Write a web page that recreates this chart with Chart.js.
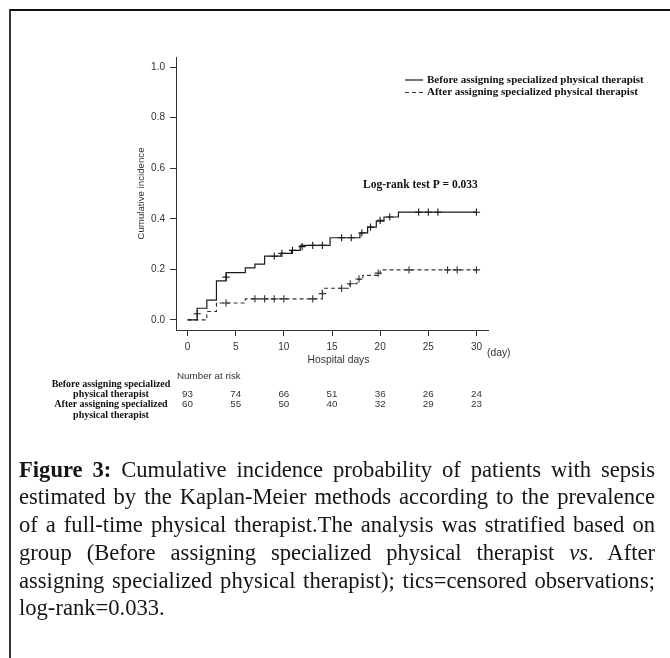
<!DOCTYPE html>
<html>
<head>
<meta charset="utf-8">
<script src="https://cdn.jsdelivr.net/npm/chart.js@4.4.1/dist/chart.umd.min.js"></script>
<style>
  html, body { margin: 0; padding: 0; background: #fff; }
  body { width: 670px; height: 658px; position: relative; overflow: hidden; }
  #frame { position: absolute; left: 9px; top: 9px; width: 700px; height: 700px; border-top: 2px solid #111; border-left: 2px solid #333; }
  #chart { position: absolute; left: 0; top: 0; }
  #caption { position: absolute; left: 19px; top: 455.5px; width: 636px; font-family: "Liberation Serif", serif; font-size: 22.6px; line-height: 27.75px; color: #151515; }
  #caption div { text-align: justify; text-align-last: justify; }
  #caption div.last { text-align-last: left; }
</style>
</head>
<body>
<div id="frame"></div>
<canvas id="chart" width="670" height="460"></canvas>
<div id="caption">
  <div><b>Figure 3:</b> Cumulative incidence probability of patients with sepsis</div>
  <div>estimated by the Kaplan-Meier methods according to the prevalence</div>
  <div>of a full-time physical therapist.The analysis was stratified based on</div>
  <div>group (Before assigning specialized physical therapist <i>vs</i>. After</div>
  <div>assigning specialized physical therapist); tics=censored observations;</div>
  <div class="last">log-rank=0.033.</div>
</div>
<script>
// Kaplan-Meier steps (day, cumulative incidence)
const beforeDays = [0, 1, 2, 3, 4, 6, 7, 8, 9.7, 10.8, 11.7, 14.8, 17.9, 18.7, 19.6, 20.4, 21.9, 30];
const beforeInc  = [0, 0.046, 0.078, 0.154, 0.187, 0.206, 0.221, 0.252, 0.263, 0.275, 0.295, 0.325, 0.344, 0.367, 0.391, 0.407, 0.426, 0.426];
const afterDays  = [0, 2, 3, 6, 14, 16.8, 17.6, 18.2, 20, 30];
const afterInc   = [0, 0.033, 0.067, 0.083, 0.125, 0.143, 0.16, 0.176, 0.198, 0.198];

// censored observations (tics)
const beforeCensDays = [1, 4, 9, 9.8, 10.9, 11.9, 13, 14, 16, 17, 18.1, 19, 20, 21, 24, 25, 26, 30];
const beforeCensInc  = [0.024, 0.169, 0.252, 0.263, 0.275, 0.29, 0.295, 0.295, 0.325, 0.325, 0.344, 0.367, 0.394, 0.407, 0.426, 0.426, 0.426, 0.426];
const afterCensDays  = [4, 7, 8, 9, 10, 13, 14, 16, 16.9, 17.8, 19.8, 23, 27, 28, 30];
const afterCensInc   = [0.067, 0.083, 0.083, 0.083, 0.083, 0.083, 0.104, 0.125, 0.143, 0.162, 0.185, 0.198, 0.198, 0.198, 0.198];

const xTicks = [0, 5, 10, 15, 20, 25, 30];
const yTicks = [0, 0.2, 0.4, 0.6, 0.8, 1.0];

// number at risk
const riskDays   = [0, 5, 10, 15, 20, 25, 30];
const riskBefore = [93, 74, 66, 51, 36, 26, 24];
const riskAfter  = [60, 55, 50, 40, 32, 29, 23];
const riskLabels = ['Before assigning specialized', 'physical therapist', 'After assigning specialized', 'physical therapist'];

const groupNames = ['Before assigning specialized physical therapist', 'After assigning specialized physical therapist'];
const logRankText = 'Log-rank test P = 0.033';

const toPoints = (xs, ys) => xs.map((v, i) => ({x: v, y: ys[i]}));

const sansFont = '"Liberation Sans", Arial, sans-serif';
const serifFont = '"Liberation Serif", "Times New Roman", serif';

const extras = {
    id: 'extras',
    afterDraw(chart) {
        const ctx = chart.ctx;
        const xs = chart.scales.x;
        const area = chart.chartArea;
        ctx.save();
        ctx.textBaseline = 'middle';

        // legend, R style
        ctx.font = 'bold 11px ' + serifFont;
        ctx.fillStyle = '#111';
        ctx.textAlign = 'left';
        [0, 1].forEach(i => {
            const ds = chart.data.datasets[i];
            const ly = 80 + i * 12.5;
            ctx.strokeStyle = ds.borderColor;
            ctx.lineWidth = ds.borderWidth;
            ctx.setLineDash(ds.borderDash || []);
            ctx.beginPath();
            ctx.moveTo(405, ly);
            ctx.lineTo(423, ly);
            ctx.stroke();
            ctx.fillText(ds.label, 427, ly);
        });
        ctx.setLineDash([]);
        ctx.font = 'bold 11.5px ' + serifFont;
        ctx.fillText(logRankText, 363, 185.5);

        // x axis title
        ctx.font = '10.3px ' + sansFont;
        ctx.fillStyle = '#333';
        ctx.textAlign = 'center';
        ctx.fillText('Hospital days', 338.5, 360);
        ctx.textAlign = 'left';
        ctx.fillText('(day)', 487, 353);

        // risk table
        ctx.font = '9.8px ' + sansFont;
        ctx.fillText('Number at risk', area.left + 1, 376);
        ctx.textAlign = 'center';
        riskDays.forEach((d, i) => {
            const px = xs.getPixelForValue(d);
            ctx.fillText(riskBefore[i], px, 394);
            ctx.fillText(riskAfter[i], px, 404.5);
        });
        ctx.font = 'bold 10px ' + serifFont;
        ctx.fillStyle = '#111';
        riskLabels.forEach((s, i) => ctx.fillText(s, 111, 384 + i * 10.4));
        ctx.restore();
    }
};

const ctx = document.getElementById('chart');
const myChart = new Chart(ctx, {
    type: 'scatter',
    data: {
        datasets: [{
            label: groupNames[0],
            data: toPoints(beforeDays, beforeInc),
            showLine: true,
            stepped: true,
            borderColor: '#1a1a1a',
            borderWidth: 1.2,
            pointRadius: 0
        }, {
            label: groupNames[1],
            data: toPoints(afterDays, afterInc),
            showLine: true,
            stepped: true,
            borderColor: '#333',
            borderWidth: 1.1,
            borderDash: [4, 3],
            pointRadius: 0
        }, {
            label: 'censored before',
            data: toPoints(beforeCensDays, beforeCensInc),
            pointStyle: 'cross',
            pointRadius: 3.6,
            borderColor: '#1a1a1a',
            borderWidth: 1.1
        }, {
            label: 'censored after',
            data: toPoints(afterCensDays, afterCensInc),
            pointStyle: 'cross',
            pointRadius: 3.6,
            borderColor: '#333',
            borderWidth: 1.1
        }]
    },
    options: {
        responsive: false,
        animation: false,
        devicePixelRatio: 1,
        layout: { padding: { left: 136, right: 182, top: 57, bottom: 100 } },
        plugins: { legend: { display: false }, tooltip: { enabled: false } },
        scales: {
            x: {
                type: 'linear',
                min: -1.2,
                max: 31.2,
                afterFit: s => { s.height = 30; },
                afterBuildTicks: s => { s.ticks = xTicks.map(v => ({value: v})); },
                grid: { drawOnChartArea: false, drawTicks: true, tickLength: 6, tickColor: '#333' },
                border: { display: true, color: '#333', width: 1 },
                ticks: { padding: 5, color: '#333', font: { family: sansFont, size: 10 }, maxRotation: 0 }
            },
            y: {
                type: 'linear',
                min: -0.04,
                max: 1.04,
                afterFit: s => { s.width = 40; },
                afterBuildTicks: s => { s.ticks = yTicks.map(v => ({value: v})); },
                grid: { drawOnChartArea: false, drawTicks: true, tickLength: 6, tickColor: '#333' },
                border: { display: true, color: '#333', width: 1 },
                ticks: { padding: 5, color: '#333', font: { family: sansFont, size: 10 }, callback: v => v.toFixed(1) },
                title: { display: true, text: 'Cumulative incidence', color: '#333', padding: 0, font: { family: sansFont, size: 9.7 } }
            }
        }
    },
    plugins: [extras]
});
</script>
</body>
</html>
